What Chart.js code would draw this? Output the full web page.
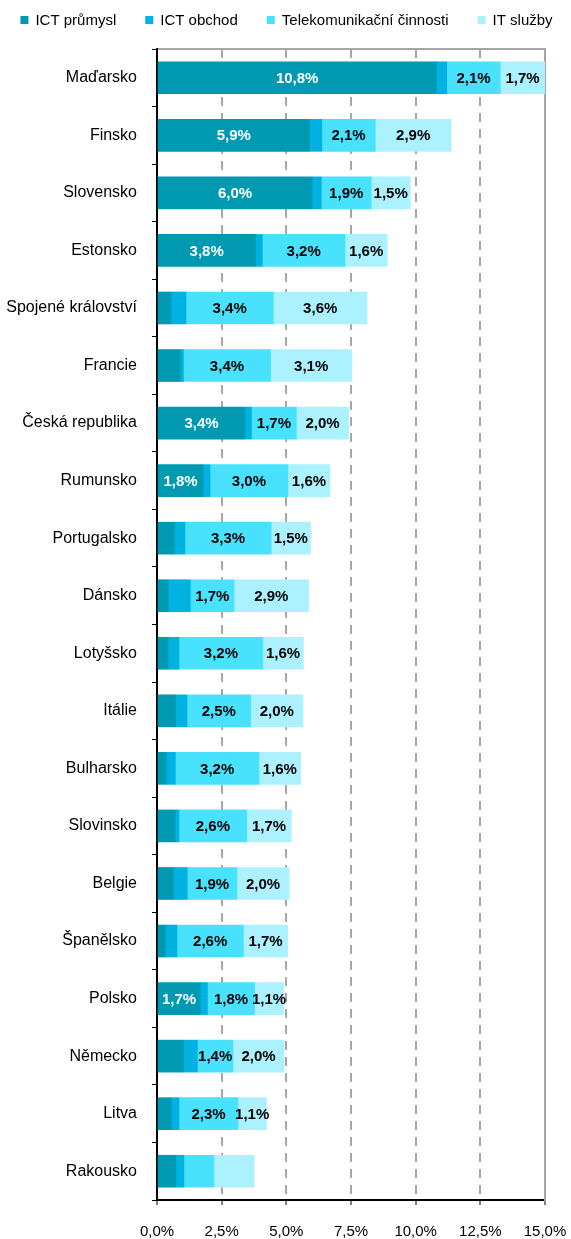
<!DOCTYPE html>
<html>
<head>
<meta charset="utf-8">
<script src="https://cdn.jsdelivr.net/npm/chart.js@4"></script>
<style>
  html, body { margin: 0; padding: 0; background: #fff; }
</style>
</head>
<body>
<canvas id="ictChart" width="571" height="1239"></canvas>
<script>
// podíl ICT sektoru na HDP (%), seřazeno dle celkové hodnoty
const countries = ['Maďarsko', 'Finsko', 'Slovensko', 'Estonsko', 'Spojené království', 'Francie',
    'Česká republika', 'Rumunsko', 'Portugalsko', 'Dánsko', 'Lotyšsko', 'Itálie', 'Bulharsko',
    'Slovinsko', 'Belgie', 'Španělsko', 'Polsko', 'Německo', 'Litva', 'Rakousko'];

const seriesNames = ['ICT průmysl', 'ICT obchod', 'Telekomunikační činnosti', 'IT služby'];
const seriesColors = ['#0099b2', '#00b2e2', '#48e2ff', '#abf1ff'];

const ictPrumysl = [10.8, 5.9, 6.0, 3.8, 0.54, 0.89, 3.4, 1.78, 0.67, 0.44, 0.43, 0.71, 0.36, 0.70, 0.63, 0.32, 1.67, 1.02, 0.55, 0.73];
const ictObchod  = [0.4, 0.47, 0.35, 0.27, 0.58, 0.13, 0.25, 0.27, 0.41, 0.85, 0.42, 0.45, 0.35, 0.15, 0.54, 0.45, 0.28, 0.54, 0.3, 0.31];
const telekom    = [2.07, 2.07, 1.93, 3.2, 3.38, 3.37, 1.74, 3.01, 3.33, 1.69, 3.24, 2.46, 3.23, 2.62, 1.92, 2.57, 1.82, 1.38, 2.28, 1.16];
const itSluzby   = [1.72, 2.93, 1.51, 1.63, 3.62, 3.14, 2.02, 1.63, 1.52, 2.88, 1.57, 2.02, 1.61, 1.72, 2.02, 1.71, 1.12, 1.97, 1.1, 1.55];

const xTicks = [0, 2.5, 5, 7.5, 10, 12.5, 15];

// popisky: minimální hodnota pro zobrazení, barva textu
const labelMin = [1.5, Infinity, 1.0, 1.0];
const labelColors = ['#fff', '#000', '#000', '#000'];
const unlabelled = ['Rakousko'];

const FONT = '"Liberation Sans", Arial, sans-serif';
Chart.defaults.font.family = FONT;
Chart.defaults.color = '#000';

const fmt = v => v.toFixed(1).replace('.', ',') + '%';

const barLabels = {
    id: 'barLabels',
    afterDatasetsDraw(chart) {
        const ctx = chart.ctx;
        ctx.save();
        ctx.font = 'bold 15px ' + FONT;
        ctx.textAlign = 'center';
        ctx.textBaseline = 'middle';
        chart.data.datasets.forEach((ds, i) => {
            chart.getDatasetMeta(i).data.forEach((bar, j) => {
                const v = ds.data[j];
                if (v < labelMin[i] || unlabelled.includes(countries[j])) return;
                const p = bar.getProps(['x', 'y', 'base'], true);
                ctx.fillStyle = labelColors[i];
                ctx.fillText(fmt(v), (p.x + p.base) / 2, p.y + 1);
            });
        });
        ctx.restore();
    }
};

const topLegend = {
    id: 'topLegend',
    afterDraw(chart) {
        const ctx = chart.ctx;
        const box = 8, textGap = 7, itemGap = 29, y = 20;
        ctx.save();
        ctx.font = '15px ' + FONT;
        ctx.textBaseline = 'middle';
        const items = chart.data.datasets.map(ds => ({
            text: ds.label, color: ds.backgroundColor, w: box + textGap + ctx.measureText(ds.label).width
        }));
        const total = items.reduce((s, it) => s + it.w, 0) + itemGap * (items.length - 1);
        let x = (chart.width - total) / 2 + 1;
        items.forEach(it => {
            ctx.fillStyle = it.color;
            ctx.fillRect(x, y - box / 2, box, box);
            ctx.fillStyle = '#000';
            ctx.fillText(it.text, x + box + textGap, y + 1);
            x += it.w + itemGap;
        });
        ctx.restore();
    }
};

const seriesData = [ictPrumysl, ictObchod, telekom, itSluzby];

new Chart(document.getElementById('ictChart').getContext('2d'), {
    type: 'bar',
    data: {
        labels: countries,
        datasets: seriesNames.map((name, i) => ({
            label: name,
            data: seriesData[i],
            backgroundColor: seriesColors[i],
            borderWidth: 0,
            barThickness: 32
        }))
    },
    options: {
        indexAxis: 'y',
        responsive: false,
        animation: false,
        layout: { padding: { top: 49, right: 26, bottom: 0, left: 0 } },
        plugins: {
            legend: { display: false },
            tooltip: { enabled: false }
        },
        scales: {
            x: {
                stacked: true,
                min: 0,
                max: 15,
                afterBuildTicks: s => { s.ticks = xTicks.map(v => ({ value: v })); },
                ticks: { callback: v => fmt(v), font: { size: 15 }, padding: 18 },
                grid: { color: '#a6a6a6', lineWidth: 2, tickColor: '#000', tickWidth: 1, tickLength: 5 },
                border: { color: '#000', width: 2, dash: [9, 7] },
                afterFit: s => { s.height = 39; s.paddingLeft = 0; s.paddingRight = 0; }
            },
            x2: {
                type: 'linear',
                position: 'top',
                min: 0,
                max: 15,
                grid: { drawOnChartArea: false, drawTicks: false },
                ticks: { display: false },
                border: { color: '#a6a6a6', width: 2 },
                afterFit: s => { s.height = 0; s.paddingLeft = 0; s.paddingRight = 0; }
            },
            y: {
                stacked: true,
                ticks: { font: { size: 16 }, padding: 15, autoSkip: false },
                grid: { drawOnChartArea: false, offset: true, color: '#000', tickLength: 5 },
                border: { color: '#000', width: 2 },
                afterFit: s => { s.width = 157; s.paddingTop = 0; s.paddingBottom = 0; }
            },
            y2: {
                type: 'category',
                position: 'right',
                grid: { drawOnChartArea: false, drawTicks: false },
                ticks: { display: false },
                border: { color: '#a6a6a6', width: 2 },
                afterFit: s => { s.width = 0; s.paddingTop = 0; s.paddingBottom = 0; }
            }
        }
    },
    plugins: [barLabels, topLegend]
});
</script>
</body>
</html>
